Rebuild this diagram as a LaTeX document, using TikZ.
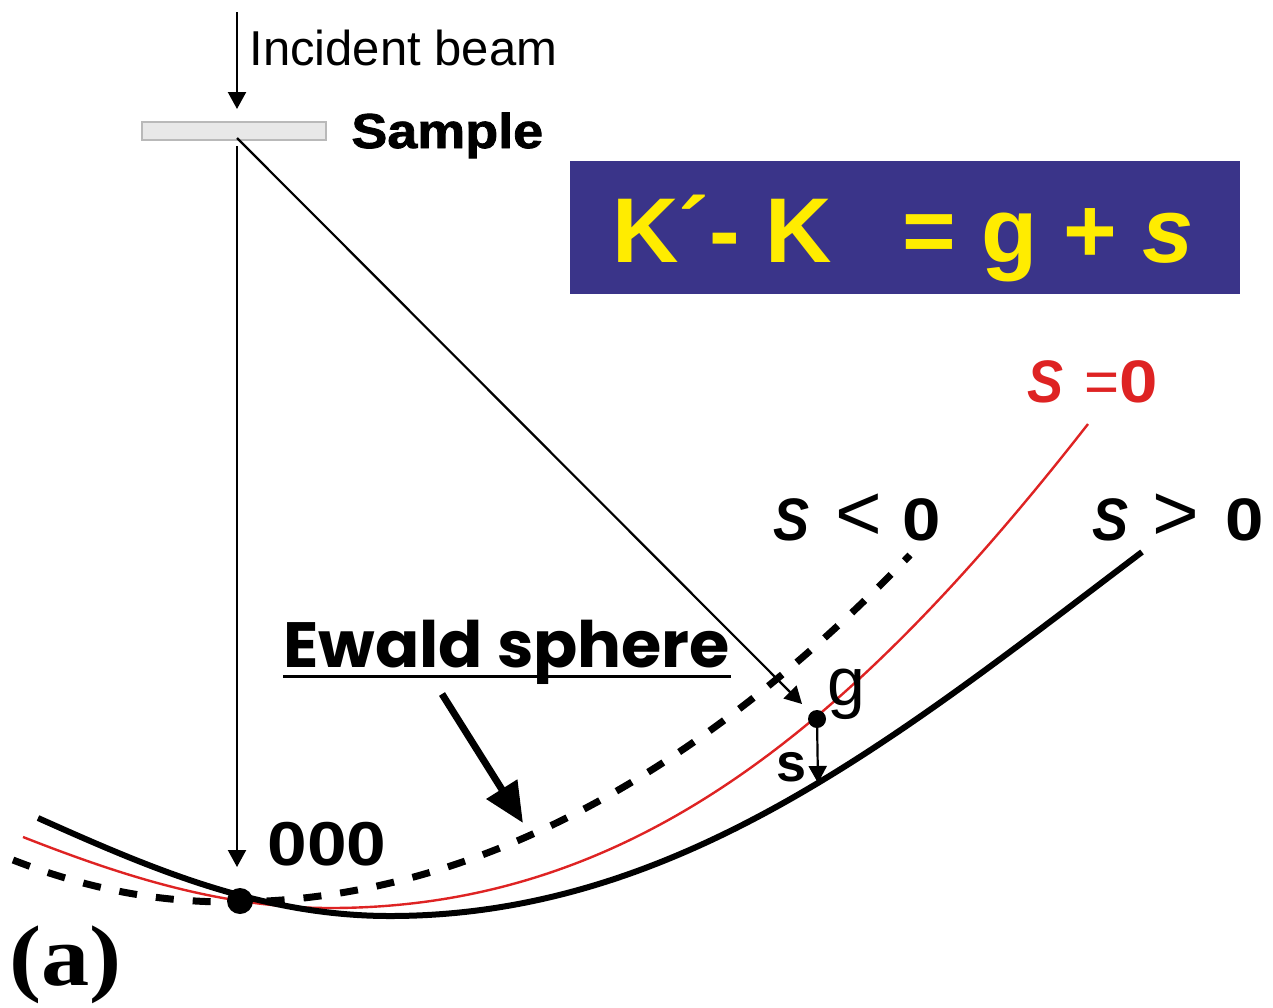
\documentclass[tikz,border=0pt]{standalone}
\usepackage{graphicx}
\usepackage{fontspec}
\setmainfont{Liberation Sans}
\newfontfamily\popfont{Poppins}
\newfontfamily\timesfont{Liberation Serif}
\newfontfamily\heavyfont[FakeBold=1.6]{Liberation Sans Bold}
\usetikzlibrary{arrows.meta}
\definecolor{boxblue}{RGB}{58,52,137}
\definecolor{eqyellow}{RGB}{255,236,0}
\definecolor{sred}{RGB}{222,35,35}
\begin{document}
\begin{tikzpicture}[x=0.5pt,y=-0.5pt,
  txt/.style={inner sep=0pt, anchor=base west},
  thinarrow/.style={line width=1.1pt, -{Triangle[length=8.5pt,width=9pt]}},
  bigarrow/.style={line width=3.5pt, -{Triangle[length=20pt,width=17.5pt]}},
  solidcurve/.style={line width=3pt},
  redcurve/.style={line width=1.2pt, sred},
  dashcurve/.style={line width=3.5pt, dash pattern=on 9pt off 9.5pt},
  dotnode/.style={circle, fill=black, inner sep=0pt},
  labfont/.style={font=\fontsize{30}{36}\selectfont}
]
\useasboundingbox (0,0) rectangle (1273,1007);

% curves
\draw[dashcurve] (13,860) .. controls (90,890) and (160,902) .. (230,902)
   .. controls (480,902) and (710,763) .. (910,555);
\draw[redcurve] (23,837) .. controls (120,875) and (220,908) .. (330,908)
   .. controls (630,908) and (848,731) .. (1088,424);
\draw[solidcurve] (38,818) .. controls (150,868) and (260,916) .. (390,916)
   .. controls (680,916) and (900,735) .. (1142,552);

% sample and incident beam
\node[draw=gray!55, fill=gray!18, line width=0.6pt, minimum width=92pt, minimum height=9pt, inner sep=0pt] (sample) at (234,131) {};
\coordinate (beamtop) at (237,12);
\coordinate (beamhit) at (237,109);
\draw[thinarrow] (beamtop) -- (beamhit);
\node[txt, font=\fontsize{24.5}{28}\selectfont] (incident) at (249,65) {Incident beam};
\node[txt, font=\fontsize{24.5}{28}\selectfont\heavyfont] (samplelab) at (351,148) {\scalebox{1.1}[1]{Sample}};

% formula box
\node[fill=boxblue, minimum width=335pt, minimum height=66.5pt, inner sep=0pt] (eqbox) at (905,227.5) {};
\node[txt, text=eqyellow, font=\fontsize{46}{50}\selectfont\bfseries] (eq) at (612,262) {K´- K\hspace{35pt}= g + \textit{s}};

% points
\node[dotnode, minimum size=13pt] (o) at (240,901) {};
\node[dotnode, minimum size=9pt] (g) at (817,719) {};

% beams
\coordinate (src) at (237,138);
\coordinate (vstart) at (237,146);
\coordinate (ohit) at (237,867);
\coordinate (gtip) at (802,704);
\draw[thinarrow] (vstart) -- (ohit);
\draw[thinarrow] (src) -- (gtip);
\coordinate (send) at (818,783);
\draw[thinarrow] (g.center) -- (send);

% Ewald arrow
\coordinate (ewtail) at (442,694);
\coordinate (ewtip) at (523,823);
\draw[bigarrow] (ewtail) -- (ewtip);

% labels
\node[txt, font=\fontsize{32}{36}\selectfont\popfont\bfseries] (ew) at (283,667) {\scalebox{1.02}[1]{Ewald sphere}};
\draw[line width=1.5pt] ([yshift=-4.5pt]ew.base west) -- ([yshift=-4.5pt]ew.base east);

\node[txt, font=\fontsize{31}{36}\selectfont\bfseries] (ooo) at (267,865) {\scalebox{1.15}[1]{000}};
\node[txt, font=\fontsize{34}{38}\selectfont] (glab) at (827,705) {g};
\node[txt, font=\fontsize{27}{30}\selectfont\bfseries] (slab) at (776,781) {s};

\node[txt, labfont, text=sred] (szero) at (1027,402) {\scalebox{0.9}[1]{\bfseries\itshape S}\hspace{10.5pt}=\scalebox{1.15}[1]{\bfseries 0}};
\node[txt, labfont] (sneg) at (773,540) {\scalebox{0.9}[1]{\bfseries\itshape S}\hspace{13pt}{\fontsize{40}{40}\selectfont <}\hspace{10pt}\scalebox{1.15}[1]{\bfseries 0}};
\node[txt, labfont] (spos) at (1092,540) {\scalebox{0.9}[1]{\bfseries\itshape S}\hspace{12pt}{\fontsize{40}{40}\selectfont >}\hspace{13pt}\scalebox{1.15}[1]{\bfseries 0}};

\node[txt, font=\fontsize{43}{46}\selectfont\timesfont\bfseries] (alab) at (9,985) {\scalebox{1.12}[1]{(a)}};
\end{tikzpicture}
\end{document}
